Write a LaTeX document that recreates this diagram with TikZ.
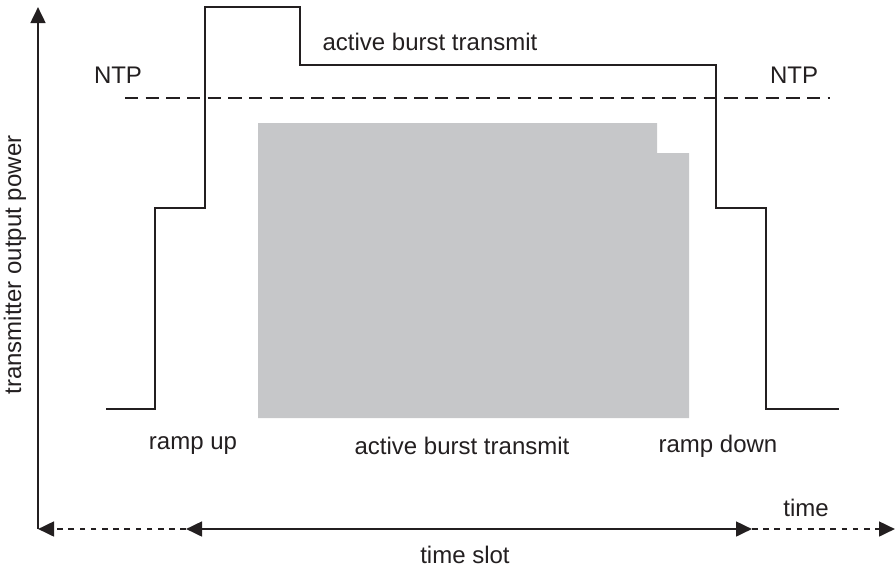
\documentclass[tikz,border=0pt]{standalone}
\usepackage{fontspec}
\setmainfont{Liberation Sans}
\usetikzlibrary{arrows.meta}
\definecolor{burstgray}{RGB}{198,199,201}
\definecolor{inkgray}{RGB}{35,31,32}

\begin{document}
\begin{tikzpicture}[x=0.75pt, y=-0.75pt,
    every node/.style={font=\fontsize{18}{21}\selectfont, text=inkgray, inner sep=0pt},
    axis/.style={line width=2pt, draw=inkgray},
    signal/.style={line width=2pt, draw=inkgray, line join=miter},
    ntpline/.style={line width=2pt, draw=inkgray, dash pattern=on 10pt off 5.5pt},
    dotline/.style={line width=2pt, draw=inkgray, dash pattern=on 4.2pt off 4.2pt},
    tip/.style={-{Triangle[length=12pt,width=11pt]}},
    bothtips/.style={{Triangle[length=12pt,width=11pt]}-{Triangle[length=12pt,width=11pt]}}
  ]
  \useasboundingbox (0,0) rectangle (896,569);

  % burst area
  \fill[burstgray] (258,123) -- (657,123) -- (657,153) -- (689,153)
    -- (689,418) -- (258,418) -- cycle;

  % power envelope
  \draw[signal] (106,409) -- (155,409) -- (155,208) -- (205,208) -- (205,7)
    -- (300,7) -- (300,65) -- (716,65) -- (716,208) -- (766,208)
    -- (766,409) -- (839,409);
  \draw[ntpline] (125,98) -- (830,98);

  % axes
  \coordinate (origin) at (38,529);
  \coordinate (ytop) at (38,7);
  \coordinate (slotL) at (186,529);
  \coordinate (slotR) at (752,529);
  \coordinate (xend) at (895,529);
  \draw[axis, tip] (origin) -- (ytop);
  \draw[dotline, tip] (slotL) -- (origin);
  \draw[axis, bothtips] (slotL) -- (slotR);
  \draw[dotline, tip] (slotR) -- (xend);

  % labels
  \node[rotate=90] (ylab) at (15,265) {transmitter output power};
  \node (time) at (806,508) {time};
  \node (slot) at (465,555) {time slot};
  \node (ntpL) at (118,75) {NTP};
  \node (ntpR) at (794,75) {NTP};
  \node (burstTop) at (430,42) {active burst transmit};
  \node (rampUp) at (193,446) {ramp up};
  \node (burst) at (462,446) {active burst transmit};
  \node (rampDown) at (718,446) {ramp down};
\end{tikzpicture}
\end{document}
